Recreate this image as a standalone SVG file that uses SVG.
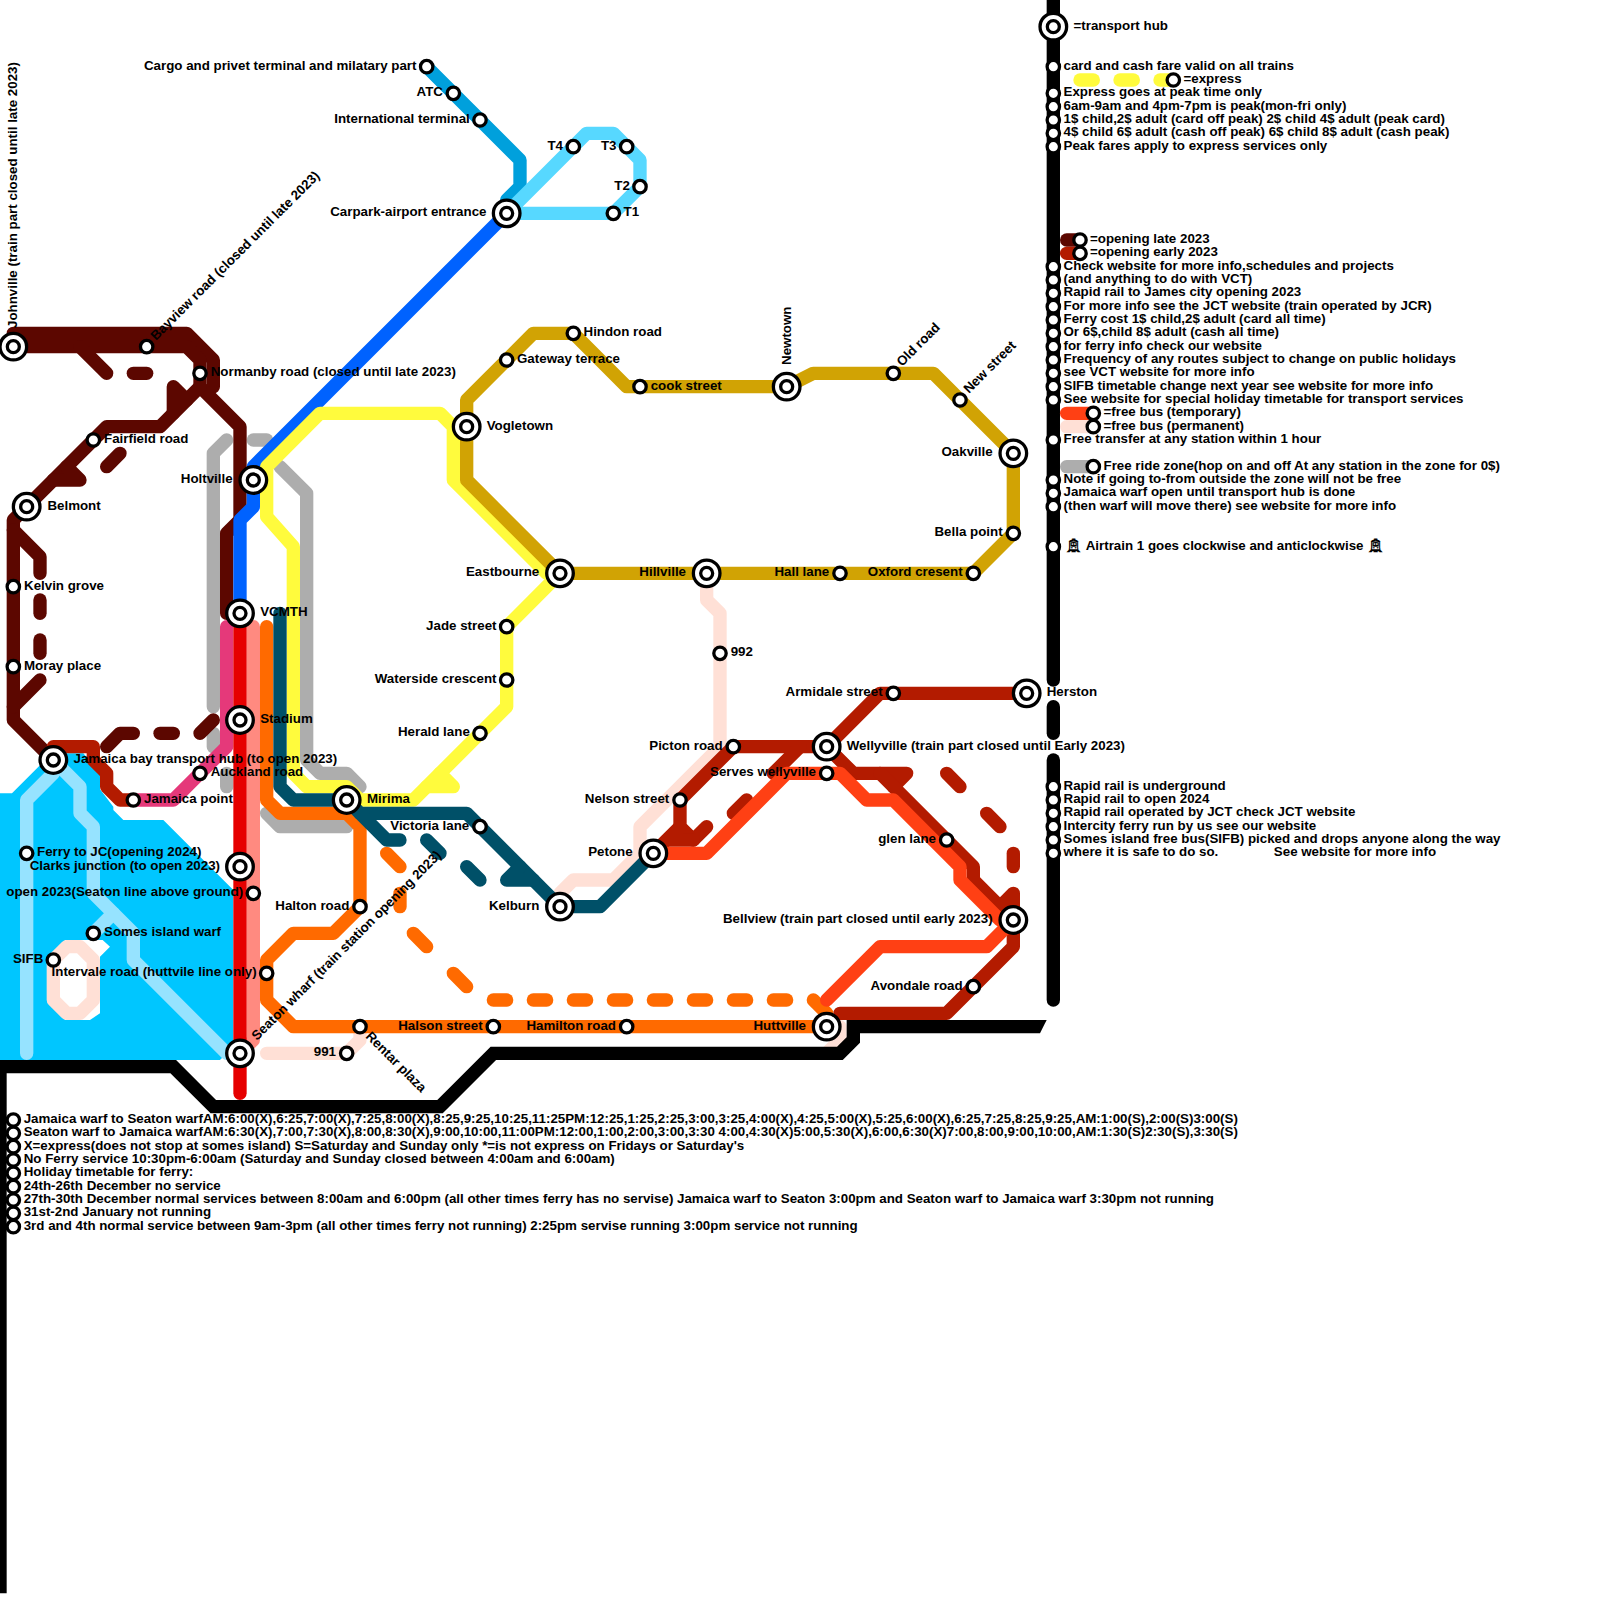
<svg xmlns="http://www.w3.org/2000/svg" width="1600" height="1600" viewBox="0 0 1600 1600">
<style>
.w{fill:#00c6ff;stroke:none}
.k{fill:#fff;stroke:none}
#connectors polyline{fill:none;stroke-width:1;stroke-linecap:round;stroke-linejoin:round}
.ferry{stroke:#96e3ff}.maroon{stroke:#5c0700}.dred{stroke:#b31b00}.org{stroke:#ff6a00}.bus{stroke:#ff4014}.peach{stroke:#ffe0d6}.gray{stroke:#adadad}.teal{stroke:#005068}.yel{stroke:#fffb3d}.gold{stroke:#d1a304}.blue{stroke:#0062ff}.mid{stroke:#00a0dc}.lt{stroke:#57d8ff}.red{stroke:#e60000}.sal{stroke:#ff8a80}.pink{stroke:#e5397a}.blk{stroke:#000}
#connectors polyline.butt{stroke-linecap:butt;stroke-linejoin:miter}
circle{fill:#fff;stroke:#000;stroke-width:3.3}
.s{r:6.2px}.h{r:13.3px}.i{r:6px}
text{font-family:"Liberation Sans",Arial,sans-serif;font-size:13.33px;font-weight:700;fill:#000;white-space:pre}
.e{text-anchor:end}
</style>
<g id="water" transform="scale(13.3333)">
<polygon class="w" points="0,59.5 0.9,59.5 3,57.4 4,56.5 6.25,56.5 7.5,58 7.5,59.2 8.5,60.5 8.5,60.75 9.25,61.5 12.25,61.5 17.5,66.75 17.5,78.5 16.5,79.5 0,79.5"/>
<polygon class="k" points="6.5,70.5 7.7,70.5 8.25,71 7.5,71.75 7.5,76 6.75,76.5 4.9,76.5 3.9,75.5 3.9,71.5 4.9,70.5"/>
</g>
<g id="connectors" transform="scale(13.3333)">
<polyline class="peach" points="5,71 6,71 7,72 7,75 6,76 5,76 4,75 4,72 5,71"/>
<polyline class="ferry" points="2,79 2,60 4,58 4,57"/>
<polyline class="ferry" points="4,57 6,59 6,61 7,62 7,67 10,70 10,72 17,79"/>
<polyline class="ferry" points="7,70 8.5,68.5"/>
<polyline class="gray" points="17,33 16,34 16,53"/><polyline class="gray" points="16,55 16,56"/><polyline class="gray" points="17,58 17,59"/><polyline class="gray" points="19,33 20,33"/>
<polyline class="gray" points="21,35 23,37 23,57 24,58 26,58 27,59"/><polyline class="gray" points="20,61 21,62 26,62"/>
<polyline class="peach" points="53,43 53,45 54,46 54,56 48,62 48,64 46,66 43,66 42,67"/>
<polyline class="peach" points="20,79 26,79 27,78 27,77"/><polyline class="peach" points="62,77 63,77 63,78 62,79"/>
<polyline class="maroon" points="1,25 14,25 16,27 16,29"/><polyline class="maroon" points="1,26 14,26 15,27 15,29 18,32 18,39 17,40 17,46"/>
<polyline class="maroon" points="6,26 8,28"/><polyline class="maroon" points="10,28 11,28"/><polyline class="maroon" points="13,31 13,29 14,30"/>
<polyline class="maroon" points="15,29 12,32 8,32 2,38 1,39 1,54 4,57"/>
<polyline class="maroon" points="5,35 6,36 4,36"/><polyline class="maroon" points="8,35 9,34"/>
<polyline class="maroon" points="1,39.75 3,41.75 3,43"/><polyline class="maroon" points="3,45 3,46"/><polyline class="maroon" points="3,48 3,49"/><polyline class="maroon" points="3,51 1,53"/>
<polyline class="maroon" points="8,56 9,55 10,55"/><polyline class="maroon" points="12,55 13,55"/><polyline class="maroon" points="15,55 16,54"/>
<polyline class="blue" points="38,16 19,35 19,38 18,39 18,46"/>
<polyline class="mid" points="32,5 39,12 39,14 38,15 38,16"/>
<polyline class="lt" points="38,16 44,10 46,10 48,12 48,14 46,16 38,16"/>
<polyline class="yel" points="41,43 34,36 34,32 33,31 24,31 20,35 20,38.75 22,41 22,58 23,59 26,59 27,60 31,60 38,53 38,47 42,43"/>
<polyline class="yel" points="33,58 34,59 32,59"/>
<polyline class="gold" points="42,43 73,43 76,40 76,34 70,28 61,28 59,29 47,29 43,25 40,25 35,30 35,36 42,43"/>
<polyline class="pink" points="17,47 17,56 13,60 10,60"/>
<polyline class="sal" points="19,47 19,78 18,79"/>
<polyline class="red" points="18,46 18,82"/>
<polyline class="org" points="20,47 20,60 21,61 26,61 27,62 27,68 25,70 22,70 20,72 20,75 22,77 62,77"/>
<polyline class="org" points="29,64 30,65"/><polyline class="org" points="30,67 30,68"/><polyline class="org" points="31,70 32,71"/><polyline class="org" points="34,73 35,74"/>
<polyline class="org" points="37,75 38,75"/><polyline class="org" points="40,75 41,75"/><polyline class="org" points="43,75 44,75"/><polyline class="org" points="46,75 47,75"/><polyline class="org" points="49,75 50,75"/><polyline class="org" points="52,75 53,75"/><polyline class="org" points="55,75 56,75"/><polyline class="org" points="58,75 59,75"/><polyline class="org" points="61,75 62,76"/>
<polyline class="teal" points="21,46 21,59 22,60 26,60 27,61 35,61 42,68 45,68 49,64"/>
<polyline class="teal" points="27,61 29,63 30,63"/><polyline class="teal" points="32,63 33,64"/><polyline class="teal" points="35,65 36,66"/><polyline class="teal" points="40,66 38,66 39,65"/>
<polyline class="dred" points="4,56 7,56 7,57 8,58 8,59 9,60 10,60"/>
<polyline class="dred" points="55,56 62,56 66,52 77,52"/><polyline class="dred" points="55,56 51,60 51,62 52,63 53,62"/><polyline class="dred" points="51,62 49,64 50,63 52,63"/>
<polyline class="dred" points="55,61 56,60"/><polyline class="dred" points="58,58 60,56"/>
<polyline class="dred" points="62,56 64,58 68,58 67,59"/><polyline class="dred" points="66,58 73,65 73,66 76,69 76,71 71,76 63,76"/><polyline class="dred" points="76,69 76,67 75,68"/>
<polyline class="dred" points="71,58 72,59"/><polyline class="dred" points="74,61 75,62"/><polyline class="dred" points="76,64 76,65"/>
<polyline class="bus" points="49,64 53,64 59,58 63,58 65,60 67,60 72,65 72,66 75,69 76,69"/>
<polyline class="bus" points="76,69 74,71 66,71 62,75"/>
<polyline class="blk butt" points="0,119.5 0,80 13,80 16,83 33,83 37,79 63,79 64,78 64,77 78,77"/>
<polygon points="78,76.5 78.5,76.5 78,77.5" fill="#000"/>
<polyline class="blk" points="79,0 79,51"/><polyline class="blk" points="79,53 79,55"/><polyline class="blk" points="79,57 79,75"/>
<polyline class="yel" points="81,6 82,6"/><polyline class="yel" points="84,6 85,6"/><polyline class="yel" points="87,6 88,6"/>
<polyline class="maroon" points="80,18 81,18"/><polyline class="dred" points="80,19 81,19"/>
<polyline class="bus" points="80,31 82,31"/><polyline class="peach" points="80,32 82,32"/><polyline class="gray" points="80,35 82,35"/>
</g>
<g id="n-johnville"><circle class="h" cx="13.33" cy="346.67"/><circle class="i" cx="13.33" cy="346.67"/><text transform="translate(17,328) rotate(-90)">Johnville (train part closed until late 2023)</text></g>
<g id="n-bayview"><circle class="s" cx="146.67" cy="346.67"/><text transform="translate(156,341) rotate(-45)">Bayview road (closed until late 2023)</text></g>
<g id="n-normanby"><circle class="s" cx="200" cy="373.33"/><text x="210.7" y="376.3">Normanby road (closed until late 2023)</text></g>
<g id="n-fairfield"><circle class="s" cx="93.33" cy="440"/><text x="104" y="443">Fairfield road</text></g>
<g id="n-belmont"><circle class="h" cx="26.67" cy="506.67"/><circle class="i" cx="26.67" cy="506.67"/><text x="47.4" y="509.7">Belmont</text></g>
<g id="n-kelvin"><circle class="s" cx="13.33" cy="586.67"/><text x="24" y="589.7">Kelvin grove</text></g>
<g id="n-moray"><circle class="s" cx="13.33" cy="666.67"/><text x="24" y="669.7">Moray place</text></g>
<g id="n-holtville"><circle class="h" cx="253.33" cy="480"/><circle class="i" cx="253.33" cy="480"/><text class="e" x="232.6" y="483">Holtville</text></g>
<g id="n-vcmth"><circle class="h" cx="240" cy="613.33"/><circle class="i" cx="240" cy="613.33"/><text x="260.2" y="616.3">VCMTH</text></g>
<g id="n-stadium"><circle class="h" cx="240" cy="720"/><circle class="i" cx="240" cy="720"/><text x="260.2" y="723">Stadium</text></g>
<g id="n-jamaicabay"><circle class="h" cx="53.33" cy="760"/><circle class="i" cx="53.33" cy="760"/><text x="73.5" y="763">Jamaica bay transport hub (to open 2023)</text></g>
<g id="n-auckland"><circle class="s" cx="200" cy="773.33"/><text x="210.7" y="776.3">Auckland road</text></g>
<g id="n-jamaicapoint"><circle class="s" cx="133.33" cy="800"/><text x="144" y="803">Jamaica point</text></g>
<g id="n-mirima"><circle class="h" cx="346.67" cy="800"/><circle class="i" cx="346.67" cy="800"/><text x="367" y="803">Mirima</text></g>
<g id="n-ferryjc"><circle class="s" cx="26.67" cy="853.33"/><text x="37" y="856.3">Ferry to JC(opening 2024)</text></g>
<g id="n-clarks"><circle class="h" cx="240" cy="866.67"/><circle class="i" cx="240" cy="866.67"/><text class="e" x="220" y="869.7">Clarks junction (to open 2023)</text></g>
<g id="n-open2023"><circle class="s" cx="253.33" cy="893.33"/><text class="e" x="243.3" y="896.3">open 2023(Seaton line above ground)</text></g>
<g id="n-somes"><circle class="s" cx="93.33" cy="933.33"/><text x="104" y="936.3">Somes island warf</text></g>
<g id="n-sifb"><circle class="s" cx="53.33" cy="960"/><text class="e" x="43.3" y="963">SIFB</text></g>
<g id="n-intervale"><circle class="s" cx="266.67" cy="973.33"/><text class="e" x="256.7" y="976.3">Intervale road (huttvile line only)</text></g>
<g id="n-seaton"><circle class="h" cx="240" cy="1053.33"/><circle class="i" cx="240" cy="1053.33"/><text transform="translate(257,1041) rotate(-45)">Seaton wharf (train station opening 2023)</text></g>
<g id="n-rentar"><circle class="s" cx="360" cy="1026.67"/><text transform="translate(365,1037) rotate(45)">Rentar plaza</text></g>
<g id="n-991"><circle class="s" cx="346.67" cy="1053.33"/><text class="e" x="336" y="1056.3">991</text></g>
<g id="n-halton"><circle class="s" cx="360" cy="906.67"/><text class="e" x="349.3" y="909.7">Halton road</text></g>
<g id="n-halson"><circle class="s" cx="493.33" cy="1026.67"/><text class="e" x="482.6" y="1029.7">Halson street</text></g>
<g id="n-hamilton"><circle class="s" cx="626.67" cy="1026.67"/><text class="e" x="616" y="1029.7">Hamilton road</text></g>
<g id="n-huttville"><circle class="h" cx="826.67" cy="1026.67"/><circle class="i" cx="826.67" cy="1026.67"/><text class="e" x="806" y="1029.7">Huttville</text></g>
<g id="n-victoria"><circle class="s" cx="480" cy="826.67"/><text class="e" x="469.3" y="829.7">Victoria lane</text></g>
<g id="n-kelburn"><circle class="h" cx="560" cy="906.67"/><circle class="i" cx="560" cy="906.67"/><text class="e" x="539.3" y="909.7">Kelburn</text></g>
<g id="n-petone"><circle class="h" cx="653.33" cy="853.33"/><circle class="i" cx="653.33" cy="853.33"/><text class="e" x="632.6" y="856.3">Petone</text></g>
<g id="n-nelson"><circle class="s" cx="680" cy="800"/><text class="e" x="669.3" y="803">Nelson street</text></g>
<g id="n-picton"><circle class="s" cx="733.33" cy="746.67"/><text class="e" x="722.6" y="749.7">Picton road</text></g>
<g id="n-wellyville"><circle class="h" cx="826.67" cy="746.67"/><circle class="i" cx="826.67" cy="746.67"/><text x="846.7" y="749.7">Wellyville (train part closed until Early 2023)</text></g>
<g id="n-serves"><circle class="s" cx="826.67" cy="773.33"/><text class="e" x="816" y="776.3">Serves wellyville</text></g>
<g id="n-armidale"><circle class="s" cx="893.33" cy="693.33"/><text class="e" x="882.6" y="696.3">Armidale street</text></g>
<g id="n-herston"><circle class="h" cx="1026.67" cy="693.33"/><circle class="i" cx="1026.67" cy="693.33"/><text x="1046.7" y="696.3">Herston</text></g>
<g id="n-glen"><circle class="s" cx="946.67" cy="840"/><text class="e" x="936" y="843">glen lane</text></g>
<g id="n-bellview"><circle class="h" cx="1013.33" cy="920"/><circle class="i" cx="1013.33" cy="920"/><text class="e" x="992.6" y="923">Bellview (train part closed until early 2023)</text></g>
<g id="n-avondale"><circle class="s" cx="973.33" cy="986.67"/><text class="e" x="962.6" y="989.7">Avondale road</text></g>
<g id="n-992"><circle class="s" cx="720" cy="653.33"/><text x="730.7" y="656.3">992</text></g>
<g id="n-eastbourne"><circle class="h" cx="560" cy="573.33"/><circle class="i" cx="560" cy="573.33"/><text class="e" x="539.3" y="576.3">Eastbourne</text></g>
<g id="n-hillville"><circle class="h" cx="706.67" cy="573.33"/><circle class="i" cx="706.67" cy="573.33"/><text class="e" x="686" y="576.3">Hillville</text></g>
<g id="n-hall"><circle class="s" cx="840" cy="573.33"/><text class="e" x="829.3" y="576.3">Hall lane</text></g>
<g id="n-oxford"><circle class="s" cx="973.33" cy="573.33"/><text class="e" x="962.6" y="576.3">Oxford cresent</text></g>
<g id="n-bella"><circle class="s" cx="1013.33" cy="533.33"/><text class="e" x="1002.6" y="536.3">Bella point</text></g>
<g id="n-oakville"><circle class="h" cx="1013.33" cy="453.33"/><circle class="i" cx="1013.33" cy="453.33"/><text class="e" x="992.6" y="456.3">Oakville</text></g>
<g id="n-newstreet"><circle class="s" cx="960" cy="400"/><text transform="translate(969,394) rotate(-45)">New street</text></g>
<g id="n-oldroad"><circle class="s" cx="893.33" cy="373.33"/><text transform="translate(902,367) rotate(-45)">Old road</text></g>
<g id="n-newtown"><circle class="h" cx="786.67" cy="386.67"/><circle class="i" cx="786.67" cy="386.67"/><text transform="translate(791,365) rotate(-90)">Newtown</text></g>
<g id="n-cook"><circle class="s" cx="640" cy="386.67"/><text x="650.7" y="389.7">cook street</text></g>
<g id="n-hindon"><circle class="s" cx="573.33" cy="333.33"/><text x="583.5" y="336.3">Hindon road</text></g>
<g id="n-gateway"><circle class="s" cx="506.67" cy="360"/><text x="517" y="363">Gateway terrace</text></g>
<g id="n-vogletown"><circle class="h" cx="466.67" cy="426.67"/><circle class="i" cx="466.67" cy="426.67"/><text x="486.7" y="429.7">Vogletown</text></g>
<g id="n-jade"><circle class="s" cx="506.67" cy="626.67"/><text class="e" x="496.5" y="629.7">Jade street</text></g>
<g id="n-waterside"><circle class="s" cx="506.67" cy="680"/><text class="e" x="496.5" y="683">Waterside crescent</text></g>
<g id="n-herald"><circle class="s" cx="480" cy="733.33"/><text class="e" x="469.8" y="736.3">Herald lane</text></g>
<g id="n-cargo"><circle class="s" cx="426.67" cy="66.67"/><text class="e" x="416.5" y="69.7">Cargo and privet terminal and milatary part</text></g>
<g id="n-atc"><circle class="s" cx="453.33" cy="93.33"/><text class="e" x="443" y="96.3">ATC</text></g>
<g id="n-international"><circle class="s" cx="480" cy="120"/><text class="e" x="469.8" y="123">International terminal</text></g>
<g id="n-carpark"><circle class="h" cx="506.67" cy="213.33"/><circle class="i" cx="506.67" cy="213.33"/><text class="e" x="486.5" y="216.3">Carpark-airport entrance</text></g>
<g id="n-t4"><circle class="s" cx="573.33" cy="146.67"/><text class="e" x="563" y="149.7">T4</text></g>
<g id="n-t3"><circle class="s" cx="626.67" cy="146.67"/><text class="e" x="616.5" y="149.7">T3</text></g>
<g id="n-t2"><circle class="s" cx="640" cy="186.67"/><text class="e" x="629.8" y="189.7">T2</text></g>
<g id="n-t1"><circle class="s" cx="613.33" cy="213.33"/><text x="623.5" y="216.3">T1</text></g>
<g id="legend-top">
<g id="l-hub"><circle class="h" cx="1053.33" cy="26.67"/><circle class="i" cx="1053.33" cy="26.67"/><text x="1073.5" y="29.7">=transport hub</text></g>
<g id="l5"><circle class="s" cx="1053.33" cy="66.67"/><text x="1063.5" y="69.7">card and cash fare valid on all trains</text></g>
<g id="l-exp"><circle class="s" cx="1173.33" cy="80"/><text x="1183.5" y="83">=express</text></g>
<g id="l7"><circle class="s" cx="1053.33" cy="93.33"/><text x="1063.5" y="96.3">Express goes at peak time only</text></g>
<g id="l8"><circle class="s" cx="1053.33" cy="106.67"/><text x="1063.5" y="109.7">6am-9am and 4pm-7pm is peak(mon-fri only)</text></g>
<g id="l9"><circle class="s" cx="1053.33" cy="120"/><text x="1063.5" y="123">1$ child,2$ adult (card off peak) 2$ child 4$ adult (peak card)</text></g>
<g id="l10"><circle class="s" cx="1053.33" cy="133.33"/><text x="1063.5" y="136.3">4$ child 6$ adult (cash off peak) 6$ child 8$ adult (cash peak)</text></g>
<g id="l11"><circle class="s" cx="1053.33" cy="146.67"/><text x="1063.5" y="149.7">Peak fares apply to express services only</text></g>
<g id="l-late"><circle class="s" cx="1080" cy="240"/><text x="1090" y="243">=opening late 2023</text></g>
<g id="l-early"><circle class="s" cx="1080" cy="253.33"/><text x="1090" y="256.3">=opening early 2023</text></g>
<g id="l20"><circle class="s" cx="1053.33" cy="266.67"/><text x="1063.5" y="269.7">Check website for more info,schedules and projects</text></g>
<g id="l21"><circle class="s" cx="1053.33" cy="280"/><text x="1063.5" y="283">(and anything to do with VCT)</text></g>
<g id="l22"><circle class="s" cx="1053.33" cy="293.33"/><text x="1063.5" y="296.3">Rapid rail to James city opening 2023</text></g>
<g id="l23"><circle class="s" cx="1053.33" cy="306.67"/><text x="1063.5" y="309.7">For more info see the JCT website (train operated by JCR)</text></g>
<g id="l24"><circle class="s" cx="1053.33" cy="320"/><text x="1063.5" y="323">Ferry cost 1$ child,2$ adult (card all time)</text></g>
<g id="l25"><circle class="s" cx="1053.33" cy="333.33"/><text x="1063.5" y="336.3">Or 6$,child 8$ adult (cash all time)</text></g>
<g id="l26"><circle class="s" cx="1053.33" cy="346.67"/><text x="1063.5" y="349.7">for ferry info check our website</text></g>
<g id="l27"><circle class="s" cx="1053.33" cy="360"/><text x="1063.5" y="363">Frequency of any routes subject to change on public holidays</text></g>
<g id="l28"><circle class="s" cx="1053.33" cy="373.33"/><text x="1063.5" y="376.3">see VCT website for more info</text></g>
<g id="l29"><circle class="s" cx="1053.33" cy="386.67"/><text x="1063.5" y="389.7">SIFB timetable change next year see website for more info</text></g>
<g id="l30"><circle class="s" cx="1053.33" cy="400"/><text x="1063.5" y="403">See website for special holiday timetable for transport services</text></g>
<g id="l-temp"><circle class="s" cx="1093.33" cy="413.33"/><text x="1103.5" y="416.3">=free bus (temporary)</text></g>
<g id="l-perm"><circle class="s" cx="1093.33" cy="426.67"/><text x="1103.5" y="429.7">=free bus (permanent)</text></g>
<g id="l33"><circle class="s" cx="1053.33" cy="440"/><text x="1063.5" y="443">Free transfer at any station within 1 hour</text></g>
<g id="l-zone"><circle class="s" cx="1093.33" cy="466.67"/><text x="1103.5" y="469.7">Free ride zone(hop on and off At any station in the zone for 0$)</text></g>
<g id="l36"><circle class="s" cx="1053.33" cy="480"/><text x="1063.5" y="483">Note if going to-from outside the zone will not be free</text></g>
<g id="l37"><circle class="s" cx="1053.33" cy="493.33"/><text x="1063.5" y="496.3">Jamaica warf open until transport hub is done</text></g>
<g id="l38"><circle class="s" cx="1053.33" cy="506.67"/><text x="1063.5" y="509.7">(then warf will move there) see website for more info</text></g>
<g id="l41"><circle class="s" cx="1053.33" cy="546.67"/><text x="1065" y="549.7" font-family="DejaVu Sans">🚊︎ <tspan style="font-family:'Liberation Sans'">Airtrain 1 goes clockwise and anticlockwise </tspan>🚊︎</text></g>
<g id="l59"><circle class="s" cx="1053.33" cy="786.67"/><text x="1063.5" y="789.7">Rapid rail is underground</text></g>
<g id="l60"><circle class="s" cx="1053.33" cy="800"/><text x="1063.5" y="803">Rapid rail to open 2024</text></g>
<g id="l61"><circle class="s" cx="1053.33" cy="813.33"/><text x="1063.5" y="816.3">Rapid rail operated by JCT check JCT website</text></g>
<g id="l62"><circle class="s" cx="1053.33" cy="826.67"/><text x="1063.5" y="829.7">Intercity ferry run by us see our website</text></g>
<g id="l63"><circle class="s" cx="1053.33" cy="840"/><text x="1063.5" y="843">Somes island free bus(SIFB) picked and drops anyone along the way</text></g>
<g id="l64"><circle class="s" cx="1053.33" cy="853.33"/><text x="1063.5" y="856.3">where it is safe to do so.               See website for more info</text></g>
</g>
<g id="legend-bottom">
<g id="b84"><circle class="s" cx="13.33" cy="1120"/><text x="23.7" y="1123">Jamaica warf to Seaton warfAM:6:00(X),6:25,7:00(X),7:25,8:00(X),8:25,9:25,10:25,11:25PM:12:25,1:25,2:25,3:00,3:25,4:00(X),4:25,5:00(X),5:25,6:00(X),6:25,7:25,8:25,9:25,AM:1:00(S),2:00(S)3:00(S)</text></g>
<g id="b85"><circle class="s" cx="13.33" cy="1133.33"/><text x="23.7" y="1136.3">Seaton warf to Jamaica warfAM:6:30(X),7:00,7:30(X),8:00,8:30(X),9:00,10:00,11:00PM:12:00,1:00,2:00,3:00,3:30 4:00,4:30(X)5:00,5:30(X),6:00,6:30(X)7:00,8:00,9:00,10:00,AM:1:30(S)2:30(S),3:30(S)</text></g>
<g id="b86"><circle class="s" cx="13.33" cy="1146.67"/><text x="23.7" y="1149.7">X=express(does not stop at somes island) S=Saturday and Sunday only *=is not express on Fridays or Saturday's</text></g>
<g id="b87"><circle class="s" cx="13.33" cy="1160"/><text x="23.7" y="1163">No Ferry service 10:30pm-6:00am (Saturday and Sunday closed between 4:00am and 6:00am)</text></g>
<g id="b88"><circle class="s" cx="13.33" cy="1173.33"/><text x="23.7" y="1176.3">Holiday timetable for ferry:</text></g>
<g id="b89"><circle class="s" cx="13.33" cy="1186.67"/><text x="23.7" y="1189.7">24th-26th December no service</text></g>
<g id="b90"><circle class="s" cx="13.33" cy="1200"/><text x="23.7" y="1203">27th-30th December normal services between 8:00am and 6:00pm (all other times ferry has no servise) Jamaica warf to Seaton 3:00pm and Seaton warf to Jamaica warf 3:30pm not running</text></g>
<g id="b91"><circle class="s" cx="13.33" cy="1213.33"/><text x="23.7" y="1216.3">31st-2nd January not running</text></g>
<g id="b92"><circle class="s" cx="13.33" cy="1226.67"/><text x="23.7" y="1229.7">3rd and 4th normal service between 9am-3pm (all other times ferry not running) 2:25pm servise running 3:00pm service not running</text></g>
</g>
</svg>
